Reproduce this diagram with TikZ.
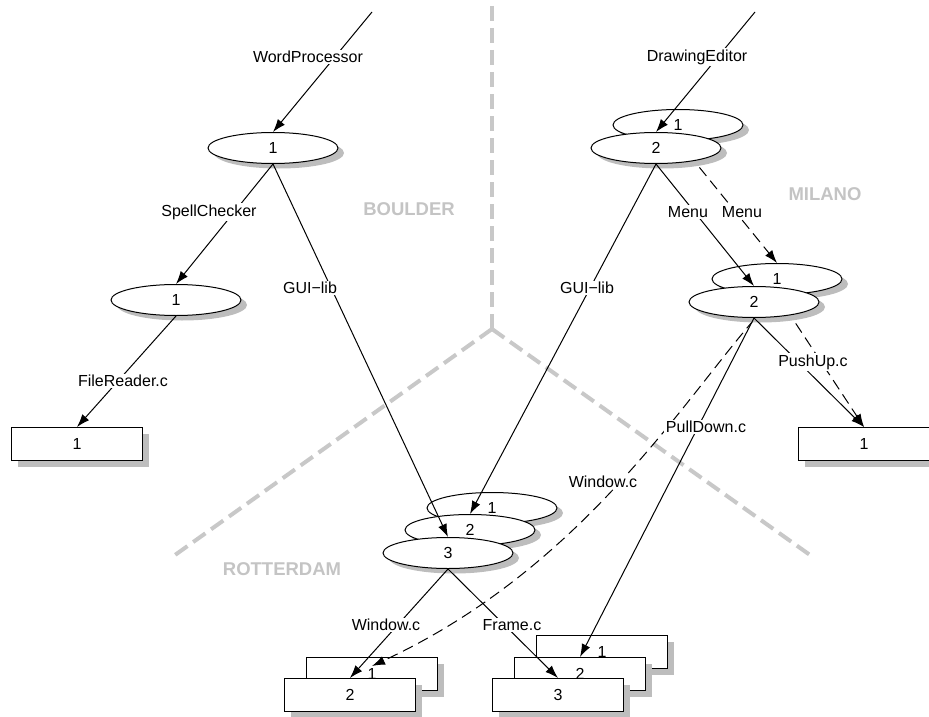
\documentclass[tikz,border=0pt]{standalone}
\usepackage{fontspec}
\setmainfont{Liberation Sans}
\usetikzlibrary{shapes.geometric,shadows,arrows.meta}
\definecolor{shadowgray}{HTML}{BDBDBD}
\definecolor{sepgray}{HTML}{C8C8C8}
\definecolor{regiongray}{HTML}{C4C4C4}
\pgfdeclarelayer{sep}\pgfdeclarelayer{n1}\pgfdeclarelayer{e1}
\pgfdeclarelayer{n2}\pgfdeclarelayer{e2}\pgfdeclarelayer{n3}
\pgfsetlayers{sep,n1,e1,n2,e2,n3,main}
\tikzset{
  ell/.style={ellipse, draw, line width=1pt, fill=white, minimum width=130pt,
    minimum height=31pt, inner sep=0pt, font=\fontsize{16}{18}\selectfont,
    drop shadow={shadow xshift=6pt, shadow yshift=-5pt, fill=shadowgray, opacity=1}},
  boxnode/.style={rectangle, draw, line width=1pt, fill=white, minimum width=131pt,
    minimum height=33pt, inner sep=0pt, font=\fontsize{16}{18}\selectfont,
    drop shadow={shadow xshift=6pt, shadow yshift=-6pt, fill=shadowgray, opacity=1}},
  arr/.style={-{Latex[length=13pt,width=9pt]}, line width=1pt},
  dsh/.style={arr, dash pattern=on 11pt off 6pt},
  lbl/.style={fill=white, inner sep=1.5pt, font=\fontsize{16}{18}\selectfont},
  sepline/.style={line width=4pt, draw=sepgray, dash pattern=on 15pt off 7pt},
  region/.style={text=regiongray, font=\fontsize{18.5}{20}\selectfont\bfseries}
}
\begin{document}
\begin{tikzpicture}[x=1pt,y=-1pt]
\useasboundingbox (0,0) rectangle (929,717);
% separators
\begin{pgfonlayer}{sep}
\coordinate (sTop) at (492,6);
\coordinate (sMid) at (492,329);
\coordinate (sLeft) at (175,555);
\coordinate (sRight) at (810,555);
\draw[sepline] (sTop) -- (sMid);
\draw[sepline] (sMid) -- (sLeft);
\draw[sepline] (sMid) -- (sRight);
\node[region] (boulder) at (409,209) {BOULDER};
\node[region] (milano) at (825,194) {MILANO};
\node[region] (rotterdam) at (282,569) {ROTTERDAM};
\end{pgfonlayer}
% back nodes
\begin{pgfonlayer}{n1}
\node[ell] (D1) at (678,125) {1};
\node[ell] (M1) at (777,279) {1};
\node[ell] (R1) at (492,508) {1};
\node[boxnode] (L1) at (372,674) {1};
\node[boxnode] (B1) at (602,652) {1};
\end{pgfonlayer}
\begin{pgfonlayer}{n2}
\node[ell] (D2) at (656,148) {2};
\node[ell] (M2) at (754,302) {2};
\node[ell] (R2) at (470,530) {2};
\node[boxnode] (L2) at (350,695) {2};
\node[boxnode] (B2) at (580,674) {2};
\end{pgfonlayer}
\begin{pgfonlayer}{n3}
\node[ell] (R3) at (448,553) {3};
\node[boxnode] (B3) at (558,695) {3};
\node[ell] (W1) at (273,148) {1};
\node[ell] (S1) at (176,300) {1};
\node[boxnode] (F1) at (77,444) {1};
\node[boxnode] (P1) at (864,444) {1};
\end{pgfonlayer}
\coordinate (wpTop) at (372,12);
\coordinate (deTop) at (755,12);
\coordinate (L1in) at ([yshift=-9pt]L1.north);
% edges leaving back nodes (hidden by front nodes)
\begin{pgfonlayer}{e1}
\draw[dsh] (D1.south) -- (M1.north);
\draw[dsh] (M1.south) -- (P1.north);
\draw[dsh] (M1.south) .. controls (700,370) and (600,560) .. (L1in);
\end{pgfonlayer}
\begin{pgfonlayer}{e2}
\draw[arr] (deTop) -- (D2.north);
\draw[arr] (D2.south) -- (R2.north);
\draw[arr] (D2.south) -- (M2.north);
\draw[arr] (M2.south) -- (P1.north);
\draw[arr] (M2.south) -- (B2.north);
\end{pgfonlayer}
\draw[arr] (wpTop) -- (W1.north);
\draw[arr] (W1.south) -- (S1.north);
\draw[arr] (W1.south) -- (R3.north);
\draw[arr] (S1.south) -- (F1.north);
\draw[arr] (R3.south) -- (L2.north);
\draw[arr] (R3.south) -- (B3.north);
% labels
\node[lbl] (lWP) at (308,57) {WordProcessor};
\node[lbl] (lDE) at (697,57) {DrawingEditor};
\node[lbl] (lSC) at (209,212) {SpellChecker};
\node[lbl] (lGL) at (310,288) {GUI−lib};
\node[lbl] (lFR) at (123,381) {FileReader.c};
\node[lbl] (lMs) at (688,212) {Menu};
\node[lbl] (lMd) at (742,212) {Menu};
\node[lbl] (lGR) at (587,288) {GUI−lib};
\node[lbl] (lPU) at (813,362) {PushUp.c};
\node[lbl] (lPD) at (706,427) {PullDown.c};
\node[lbl] (lWd) at (603,482) {Window.c};
\node[lbl] (lWs) at (386,625) {Window.c};
\node[lbl] (lFr) at (512,625) {Frame.c};
\end{tikzpicture}
\end{document}
